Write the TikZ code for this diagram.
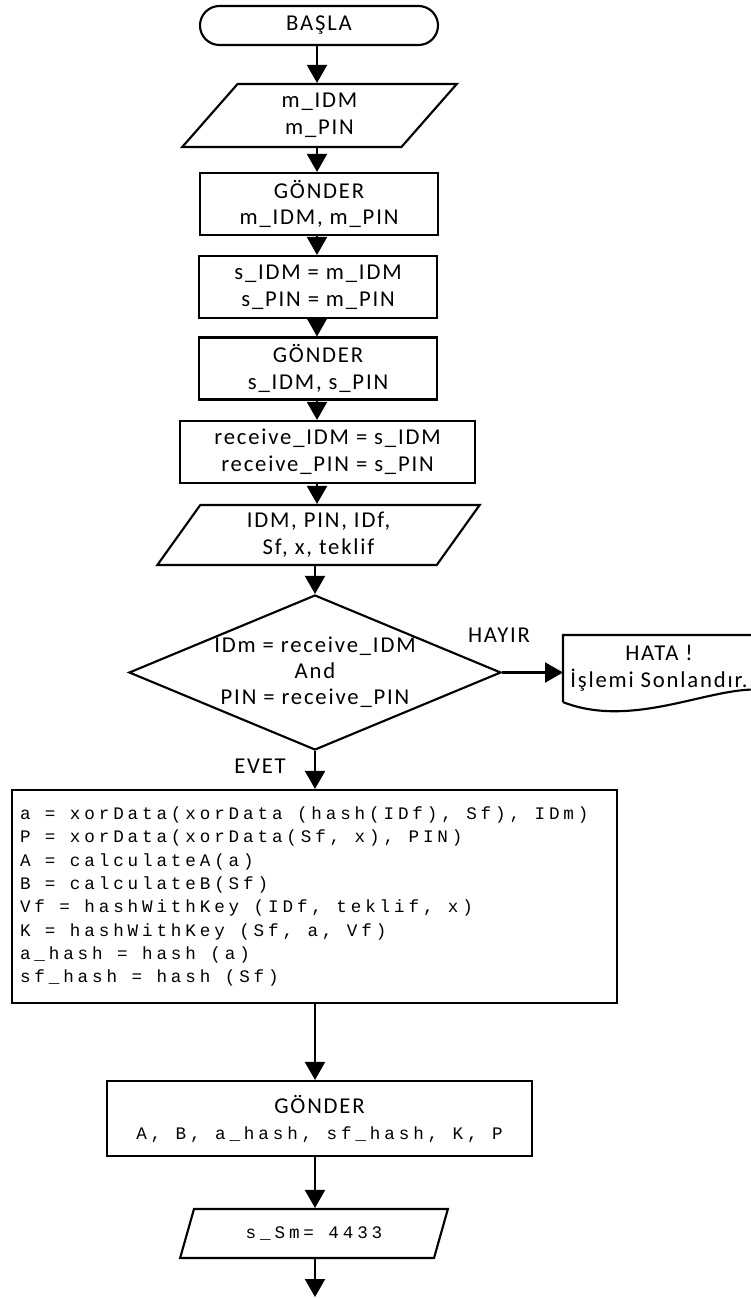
\documentclass[tikz,border=0pt]{standalone}
\usepackage{fontspec}
\setmainfont{Carlito}
\newfontfamily\flowfont{Carlito}[LetterSpace=8]
\newfontfamily\codefont{Liberation Mono}[LetterSpace=22]
\newcommand{\codesize}{\codefont\fontsize{13.2}{17.5}\selectfont\spaceskip=10.82pt\relax}
\usetikzlibrary{arrows.meta, shapes.geometric, calc}

\begin{document}
\begin{tikzpicture}[
    x=0.75pt, y=-0.75pt,
    every node/.style={font=\flowfont\fontsize{17}{20}\selectfont},
    flowbase/.style={draw=black, line width=1.6pt, inner sep=0pt, align=center},
    terminal/.style={flowbase, rectangle, rounded corners=14.6pt, minimum width=178.5pt, minimum height=29.25pt},
    process/.style={flowbase, rectangle, minimum width=178.5pt, minimum height=46.5pt},
    iobox/.style={flowbase, trapezium, trapezium left angle=60, trapezium right angle=120, trapezium stretches=true},
    decision/.style={flowbase, diamond, minimum width=279pt, minimum height=116.25pt},
    codetext/.style={font=\codesize},
    arrow/.style={-{Triangle[length=13.5pt, width=15pt]}, line width=1.6pt},
    branch/.style={font=\flowfont\fontsize{17}{20}\selectfont}
]
\useasboundingbox (0,0) rectangle (750,1298);
\coordinate (col) at (317,0);
\coordinate (col2) at (315,0);
% main column
\node[terminal] (start) at (319,25.5) {BAŞLA};
\node[iobox, minimum width=206.25pt, minimum height=47.25pt] (in1) at (319.5,115.5) {m\_IDM\\m\_PIN};
\node[process] (send1) at (319,204) {GÖNDER\\m\_IDM, m\_PIN};
\node[process] (assign1) at (318,287) {s\_IDM = m\_IDM\\s\_PIN = m\_PIN};
\node[process] (send2) at (318,368.5) {GÖNDER\\s\_IDM, s\_PIN};
\node[process, minimum width=221.25pt] (recv) at (327.5,452) {receive\_IDM = s\_IDM\\receive\_PIN = s\_PIN};
\node[iobox, minimum width=242.25pt, minimum height=45pt] (in2) at (318.5,535) {IDM, PIN, IDf,\\Sf, x, teklif};
\node[decision] (dec) at (315,672.5) {};
\node[align=center, font=\flowfont\fontsize{17}{19.5}\selectfont] (dectext) at (dec.center) {IDm = receive\_IDM\\And\\PIN = receive\_PIN};
\node[branch] (hayir) at (499,635) {HAYIR};
\node[branch] (evet) at (260,766) {EVET};
% error document
\node[flowbase, draw=none, minimum width=142.5pt, minimum height=48.75pt, anchor=north west] (hata) at (563,635) {HATA !\\İşlemi Sonlandır.};
\draw[line width=1.6pt] (hata.south west) -- (hata.north west) -- ($(hata.north east)+(20,0)$) -- ($(hata.south east)+(20,-10)$)
    .. controls ($(hata.south east)+(-30,-25)$) and ($(hata.south west)+(77,30)$) .. (hata.south west);
% computation block
\node[flowbase, codetext, align=left, text width=441.75pt, inner xsep=6pt, minimum height=159.75pt] (calc) at (314.5,896.5) {\spaceskip=10.82pt\relax
a = xorData(xorData (hash(IDf), Sf), IDm)\\
P = xorData(xorData(Sf, x), PIN)\\
A = calculateA(a)\\
B = calculateB(Sf)\\
Vf = hashWithKey (IDf, teklif, x)\\
K = hashWithKey (Sf, a, Vf)\\
a\_hash = hash (a)\\
sf\_hash = hash (Sf)};
\node[process, minimum width=318.75pt, minimum height=56.25pt, font=\flowfont\fontsize{17}{19.5}\selectfont] (send3) at (319.5,1118.5) {GÖNDER\\{\codesize A, B, a\_hash, sf\_hash, K, P}};
\node[iobox, codetext, minimum width=201pt, minimum height=36.75pt] (out) at (314,1233.5) {s\_Sm= 4433};
\coordinate (stop) at (315,1297);
% connectors
\draw[arrow] (start.south -| col) -- (in1.north -| col);
\draw[arrow] (in1.south -| col) -- (send1.north -| col);
\draw[arrow] (send1.south -| col) -- (assign1.north -| col);
\draw[arrow] (assign1.south -| col) -- (send2.north -| col);
\draw[arrow] (send2.south -| col) -- (recv.north -| col);
\draw[arrow] (recv.south -| col) -- (in2.north -| col);
\draw[arrow] (in2.south -| dec.north) -- (dec.north);
\draw[arrow] (dec.east) -- (dec.east -| hata.west);
\draw[arrow] (dec.south) -- (dec.south |- calc.north);
\draw[arrow] (calc.south -| col2) -- (send3.north -| col2);
\draw[arrow] (send3.south -| col2) -- (out.north -| col2);
\draw[arrow] (out.south -| col2) -- (stop);
\end{tikzpicture}
\end{document}
